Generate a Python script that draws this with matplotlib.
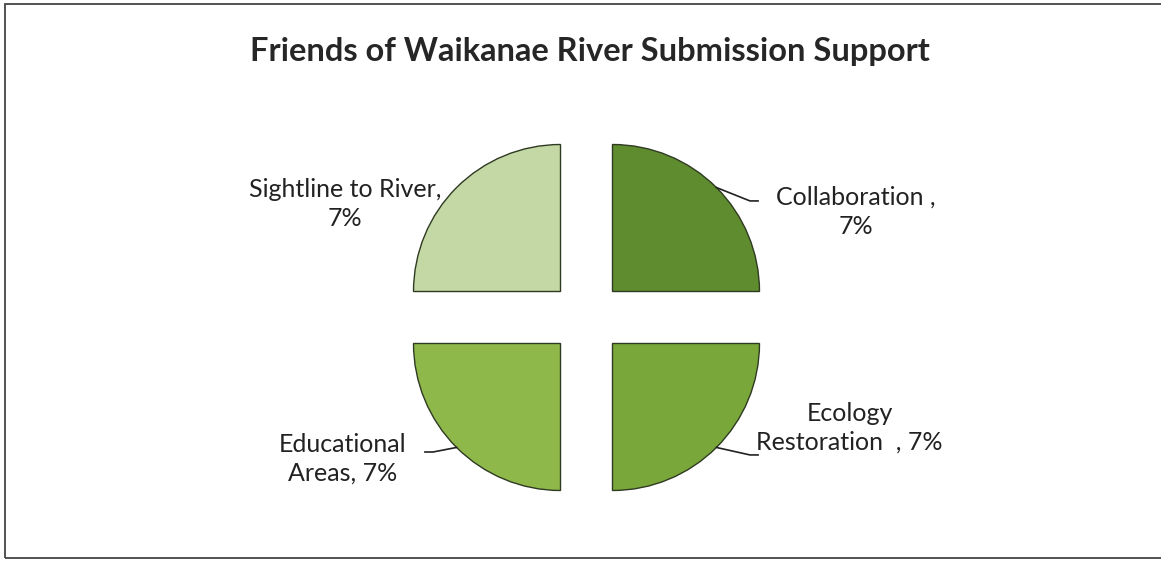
import numpy
import matplotlib as mpl
mpl.use("Agg")
import matplotlib.pyplot as plt
from matplotlib.patches import Rectangle

mpl.rcParams.update({
	"font.family": ["Lato", "DejaVu Sans"],
})

# slices go clockwise from 12 o'clock
labels = ["Collaboration ,\n7%", "Ecology\nRestoration  , 7%", "Educational\nAreas, 7%", "Sightline to River,\n7%"]
shares = [7, 7, 7, 7]
colours = ["#5e8c2e", "#79a73a", "#8fb84b", "#c4d8a5"]

# where each label sits (data units, radius = 1)
label_pos = [(1.83, 0.72), (1.79, -0.75), (-1.66, -0.96), (-1.64, 0.77)]
leaders = [
	[(0.884, 0.884), (1.112, 0.793), (1.167, 0.793)],
	[(0.884, -0.884), (1.112, -0.935), (1.167, -0.935)],
	[(-0.884, -0.884), (-1.044, -0.915), (-1.099, -0.915)],
	None,
]

def main():
	W, H = 1161, 562
	fig = plt.figure(figsize=(W / 100, H / 100), dpi=100)

	# chart frame
	fig.patches.append(Rectangle((5 / W, 4 / H), 1.2, 554 / H, transform=fig.transFigure,
		fill=False, edgecolor="#444444", linewidth=1.3))

	cx, cy, r = 586.5, 562 - 317.5, 147.0
	ax = fig.add_axes([(cx - 3 * r) / W, (cy - 1.5 * r) / H, 6 * r / W, 3 * r / H])
	ax.axis("off")

	ax.pie(shares, colors=colours, startangle=90, counterclock=False, radius=1,
		explode=[0.25] * 4, wedgeprops={"edgecolor": "#2f3a22", "linewidth": 1.0})
	ax.set_xlim(-3, 3)
	ax.set_ylim(-1.5, 1.5)

	for text, (x, y), lead in zip(labels, label_pos, leaders):
		ax.text(x, y, text, ha="center", va="center", fontsize=18, color="#222222", linespacing=1.3)
		if lead:
			xs, ys = zip(*lead)
			ax.plot(xs, ys, color="#222222", linewidth=1.2)

	fig.text(590 / W, 1 - 52 / H, "Friends of Waikanae River Submission Support",
		ha="center", va="center", fontsize=23.5, fontweight="bold", color="#262626")

	fig.savefig("out.png", dpi=100)

if __name__ == "__main__":
	main()
